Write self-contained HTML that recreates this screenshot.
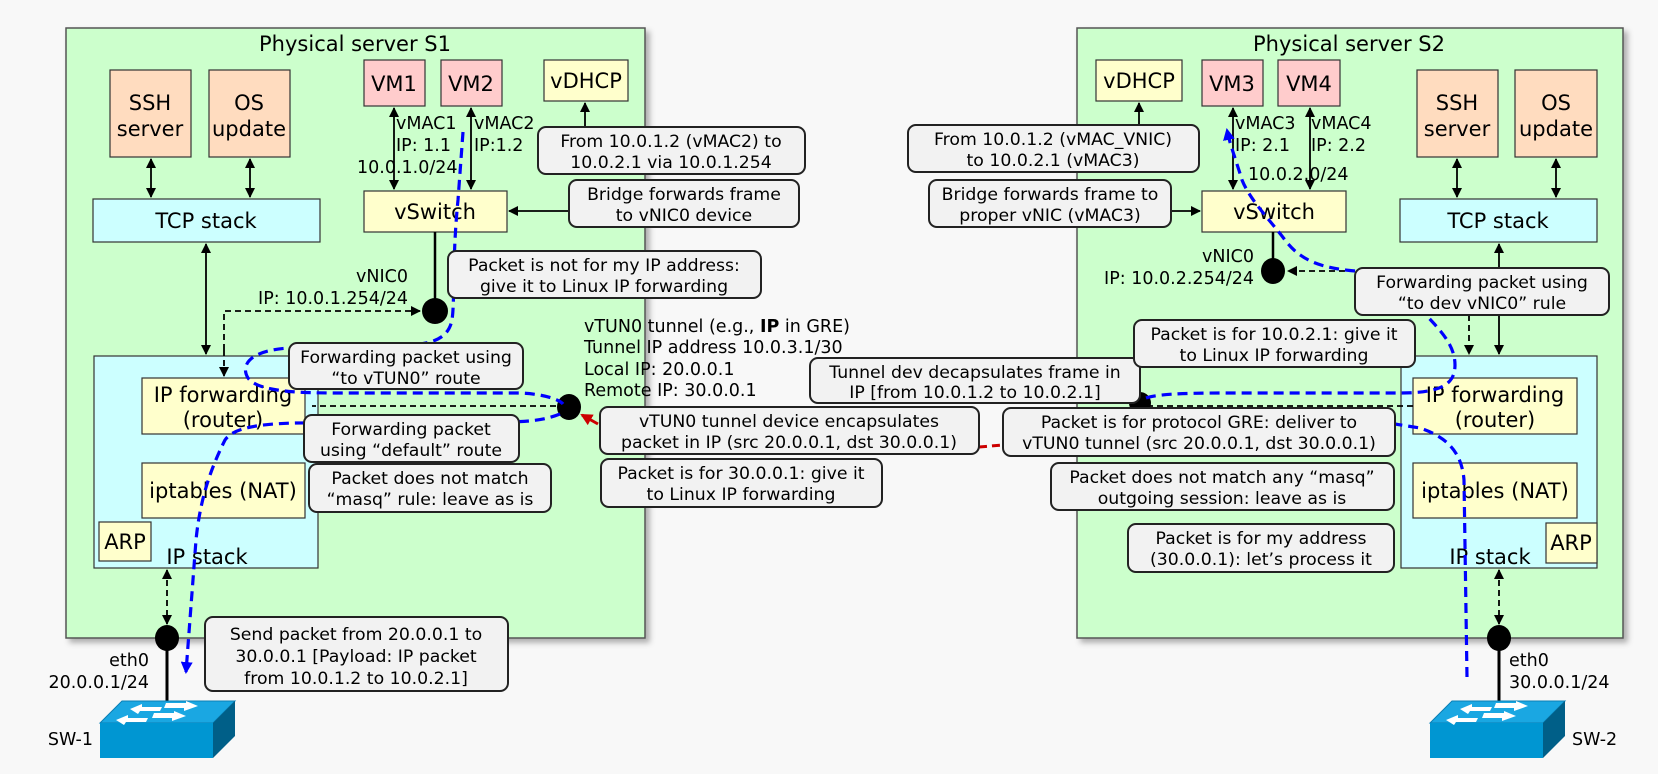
<!DOCTYPE html>
<html><head><meta charset="utf-8"><style>
html,body{margin:0;padding:0;background:#f8f8f8;}
svg{display:block;font-family:"DejaVu Sans","Liberation Sans",sans-serif;font-size:17.5px;}
</style></head><body>
<svg width="1658" height="774" viewBox="0 0 1658 774" xmlns="http://www.w3.org/2000/svg">
<defs>
<marker id="a" markerWidth="10" markerHeight="10" refX="9" refY="5" orient="auto-start-reverse" markerUnits="userSpaceOnUse"><path d="M0,0 L10,5 L0,10 z" fill="#000"/></marker>
<marker id="ab" markerWidth="12" markerHeight="12" refX="10" refY="6" orient="auto" markerUnits="userSpaceOnUse"><path d="M0,0 L12,6 L0,12 z" fill="#00f"/></marker>
<marker id="ar" markerWidth="12" markerHeight="12" refX="10" refY="6" orient="auto" markerUnits="userSpaceOnUse"><path d="M0,0 L12,6 L0,12 z" fill="#c00"/></marker>
<filter id="sh" x="-5%" y="-5%" width="110%" height="110%"><feDropShadow dx="4" dy="4" stdDeviation="3" flood-color="#000" flood-opacity="0.3"/></filter>
<g id="sw">
<path d="M0,22 L22,0 L135,0 L113,22 z" fill="#1aa7e2" stroke="#0a7fb5" stroke-width="1"/>
<rect x="0" y="22" width="113" height="35" fill="#0096d2"/>
<path d="M113,22 L135,0 L135,35 L113,57 z" fill="#005f88"/>
<g fill="#fff">
<path d="M30,8 L42,3 L42,6 L62,6 L60,10 L40,10 L38,13 z"/>
<path d="M98,5 L86,0 L86,2 L66,2 L64,7 L84,7 L84,10 z"/>
<path d="M16,19 L28,14 L28,17 L48,17 L46,21 L26,21 L24,24 z"/>
<path d="M86,15 L74,10 L74,12 L54,12 L52,17 L72,17 L72,20 z"/>
</g>
</g>
</defs>

<rect x="66" y="28" width="579" height="610" fill="#ccffcc" stroke="#555" stroke-width="1.5" filter="url(#sh)"/>
<text x="355" y="51" text-anchor="middle" font-size="21">Physical server S1</text>
<rect x="1077" y="28" width="546" height="610" fill="#ccffcc" stroke="#555" stroke-width="1.5" filter="url(#sh)"/>
<text x="1349" y="51" text-anchor="middle" font-size="21">Physical server S2</text>

<g stroke="#333" stroke-width="1.2">
<rect x="110" y="70" width="81" height="87" fill="#ffdcbf"/>
<rect x="209" y="70" width="81" height="87" fill="#ffdcbf"/>
<rect x="93" y="199" width="227" height="43" fill="#ccffff"/>
<rect x="364" y="60" width="61" height="46" fill="#ffcccc"/>
<rect x="441" y="60" width="61" height="46" fill="#ffcccc"/>
<rect x="544" y="60" width="84" height="41" fill="#ffffcc"/>
<rect x="364" y="191" width="143" height="41" fill="#ffffcc"/>
<rect x="94" y="356" width="224" height="212" fill="#ccffff"/>
<rect x="142" y="378" width="163" height="56" fill="#ffffcc"/>
<rect x="142" y="463" width="163" height="55" fill="#ffffcc"/>
<rect x="99" y="522" width="52" height="39" fill="#ffffcc"/>
<rect x="1096" y="60" width="86" height="41" fill="#ffffcc"/>
<rect x="1202" y="60" width="61" height="46" fill="#ffcccc"/>
<rect x="1278" y="60" width="62" height="46" fill="#ffcccc"/>
<rect x="1417" y="70" width="81" height="87" fill="#ffdcbf"/>
<rect x="1515" y="70" width="82" height="87" fill="#ffdcbf"/>
<rect x="1400" y="199" width="197" height="43" fill="#ccffff"/>
<rect x="1202" y="191" width="144" height="41" fill="#ffffcc"/>
<rect x="1401" y="356" width="196" height="212" fill="#ccffff"/>
<rect x="1413" y="378" width="164" height="56" fill="#ffffcc"/>
<rect x="1413" y="463" width="164" height="55" fill="#ffffcc"/>
<rect x="1546" y="523" width="51" height="40" fill="#ffffcc"/>
</g>

<g font-size="21" text-anchor="middle">
<text x="150" y="110">SSH</text><text x="150" y="136">server</text>
<text x="249" y="110">OS</text><text x="249" y="136">update</text>
<text x="206" y="228">TCP stack</text>
<text x="394" y="91">VM1</text><text x="471" y="91">VM2</text>
<text x="586" y="88">vDHCP</text>
<text x="435" y="219">vSwitch</text>
<text x="223" y="402">IP forwarding</text><text x="223" y="427">(router)</text>
<text x="223" y="498">iptables (NAT)</text>
<text x="125" y="549">ARP</text>
<text x="207" y="564">IP stack</text>
<text x="1139" y="88">vDHCP</text>
<text x="1232" y="91">VM3</text><text x="1309" y="91">VM4</text>
<text x="1457" y="110">SSH</text><text x="1457" y="136">server</text>
<text x="1556" y="110">OS</text><text x="1556" y="136">update</text>
<text x="1498" y="228">TCP stack</text>
<text x="1274" y="219">vSwitch</text>
<text x="1495" y="402">IP forwarding</text><text x="1495" y="427">(router)</text>
<text x="1495" y="498">iptables (NAT)</text>
<text x="1571" y="550">ARP</text>
<text x="1490" y="564">IP stack</text>
</g>

<g stroke="#000" stroke-width="1.8" fill="none">
<line x1="151" y1="159" x2="151" y2="197" marker-start="url(#a)" marker-end="url(#a)"/>
<line x1="250" y1="159" x2="250" y2="197" marker-start="url(#a)" marker-end="url(#a)"/>
<line x1="206" y1="244" x2="206" y2="354" marker-start="url(#a)" marker-end="url(#a)"/>
<line x1="394" y1="108" x2="394" y2="189" marker-start="url(#a)" marker-end="url(#a)"/>
<line x1="471" y1="108" x2="471" y2="189" marker-start="url(#a)" marker-end="url(#a)"/>
<line x1="585" y1="127" x2="585" y2="103" marker-end="url(#a)"/>
<line x1="569" y1="211" x2="509" y2="211" marker-end="url(#a)"/>
<line x1="435" y1="232" x2="435" y2="311" stroke-width="2.5"/>
<line x1="167" y1="638" x2="167" y2="701" stroke-width="3"/>
<line x1="167" y1="570" x2="167" y2="624" stroke-dasharray="6,4" marker-start="url(#a)" marker-end="url(#a)"/>
<path d="M224,350 L224,311 L420,311" stroke-dasharray="6,4" marker-end="url(#a)"/>
<line x1="224" y1="350" x2="224" y2="376" marker-end="url(#a)" stroke-dasharray="6,4"/>
<line x1="556" y1="406" x2="312" y2="406" stroke-dasharray="6,4"/>
<line x1="1457" y1="159" x2="1457" y2="197" marker-start="url(#a)" marker-end="url(#a)"/>
<line x1="1556" y1="159" x2="1556" y2="197" marker-start="url(#a)" marker-end="url(#a)"/>
<line x1="1233" y1="108" x2="1233" y2="189" marker-start="url(#a)" marker-end="url(#a)"/>
<line x1="1310" y1="108" x2="1310" y2="189" marker-start="url(#a)" marker-end="url(#a)"/>
<line x1="1139" y1="125" x2="1139" y2="103" marker-end="url(#a)"/>
<line x1="1171" y1="211" x2="1200" y2="211" marker-end="url(#a)"/>
<line x1="1273" y1="232" x2="1273" y2="271" stroke-width="2.5"/>
<line x1="1355" y1="271" x2="1288" y2="271" stroke-dasharray="6,4" marker-end="url(#a)"/>
<line x1="1499" y1="268" x2="1499" y2="244" marker-end="url(#a)"/>
<line x1="1499" y1="315" x2="1499" y2="354" marker-end="url(#a)"/>
<line x1="1469" y1="315" x2="1469" y2="354" stroke-dasharray="6,4" marker-end="url(#a)"/>
<line x1="1413" y1="406" x2="1140" y2="406" stroke-dasharray="6,4"/>
<line x1="1499" y1="638" x2="1499" y2="701" stroke-width="3"/>
<line x1="1499" y1="570" x2="1499" y2="624" stroke-dasharray="6,4" marker-start="url(#a)" marker-end="url(#a)"/>
</g>

<g fill="#000">
<ellipse cx="435" cy="311" rx="13" ry="13"/>
<ellipse cx="569" cy="407" rx="12" ry="13"/>
<ellipse cx="167" cy="638" rx="12" ry="13"/>
<ellipse cx="1273" cy="271" rx="12" ry="13"/>
<ellipse cx="1140" cy="403" rx="11" ry="11"/>
<ellipse cx="1499" cy="638" rx="12" ry="13"/>
</g>

<g font-size="17.5">
<text x="396" y="129">vMAC1</text><text x="396" y="151">IP: 1.1</text>
<text x="357" y="173">10.0.1.0/24</text>
<text x="474" y="129">vMAC2</text><text x="474" y="151">IP:1.2</text>
<text x="408" y="282" text-anchor="end">vNIC0</text>
<text x="408" y="304" text-anchor="end">IP: 10.0.1.254/24</text>
<text x="584" y="332">vTUN0 tunnel (e.g., <tspan font-weight="bold">IP</tspan> in GRE)</text>
<text x="584" y="353">Tunnel IP address 10.0.3.1/30</text>
<text x="584" y="375">Local IP: 20.0.0.1</text>
<text x="584" y="396">Remote IP: 30.0.0.1</text>
<text x="149" y="666" text-anchor="end">eth0</text>
<text x="149" y="688" text-anchor="end">20.0.0.1/24</text>
<text x="93" y="745" text-anchor="end">SW-1</text>
<text x="1235" y="129">vMAC3</text><text x="1235" y="151">IP: 2.1</text>
<text x="1311" y="129">vMAC4</text><text x="1311" y="151">IP: 2.2</text>
<text x="1248" y="180">10.0.2.0/24</text>
<text x="1254" y="262" text-anchor="end">vNIC0</text>
<text x="1254" y="284" text-anchor="end">IP: 10.0.2.254/24</text>
<text x="1509" y="666">eth0</text>
<text x="1509" y="688">30.0.0.1/24</text>
<text x="1572" y="745">SW-2</text>
</g>

<use href="#sw" x="100" y="701"/>
<use href="#sw" x="1430" y="701"/>

<g stroke="#0000ff" stroke-width="3.2" fill="none" stroke-dasharray="10,6">
<path d="M463,132 L458,200 C452,260 455,300 452,320 C448,340 430,345 400,345 L290,348 C250,350 240,365 248,378 C258,392 300,393 340,393 L520,393 C545,394 560,400 563,404"/>
<path d="M560,414 C545,420 530,422 500,422 L296,423 C250,424 232,430 225,440 C210,470 200,500 196,540 L186,672" marker-end="url(#ab)"/>
<path d="M1467,677 L1464,480 C1462,455 1450,438 1420,428 L1395,424"/>
<path d="M1146,398 C1160,393 1200,393 1240,393 L1400,393 C1440,393 1455,385 1455,365 C1455,345 1440,330 1426,315"/>
<path d="M1355,271 C1320,268 1300,260 1285,240 C1270,220 1250,200 1242,180 C1236,160 1230,145 1227,130" marker-end="url(#ab)"/>
</g>

<line x1="979" y1="447" x2="1003" y2="445" stroke="#c00" stroke-width="3" stroke-dasharray="8,5"/>
<line x1="598" y1="424" x2="582" y2="415" stroke="#c00" stroke-width="3" marker-end="url(#ar)"/>

<g fill="#f2f2f2" stroke="#222" stroke-width="2">
<rect x="538" y="127" width="267" height="47" rx="8"/>
<rect x="569" y="180" width="230" height="47" rx="8"/>
<rect x="448" y="251" width="313" height="47" rx="8"/>
<rect x="289" y="343" width="234" height="46" rx="8"/>
<rect x="304" y="415" width="215" height="47" rx="8"/>
<rect x="309" y="464" width="242" height="48" rx="8"/>
<rect x="205" y="617" width="303" height="74" rx="8"/>
<rect x="600" y="407" width="379" height="47" rx="8"/>
<rect x="601" y="459" width="281" height="48" rx="8"/>
<rect x="810" y="358" width="330" height="45" rx="8"/>
<rect x="908" y="125" width="291" height="47" rx="8"/>
<rect x="929" y="180" width="242" height="47" rx="8"/>
<rect x="1355" y="268" width="254" height="47" rx="8"/>
<rect x="1134" y="320" width="281" height="47" rx="8"/>
<rect x="1003" y="408" width="392" height="48" rx="8"/>
<rect x="1051" y="463" width="343" height="47" rx="8"/>
<rect x="1128" y="524" width="266" height="48" rx="8"/>
</g>
<g font-size="17.3" text-anchor="middle">
<text x="671" y="147">From 10.0.1.2 (vMAC2) to</text><text x="671" y="168">10.0.2.1 via 10.0.1.254</text>
<text x="684" y="200">Bridge forwards frame</text><text x="684" y="221">to vNIC0 device</text>
<text x="604" y="271">Packet is not for my IP address:</text><text x="604" y="292">give it to Linux IP forwarding</text>
<text x="406" y="363">Forwarding packet using</text><text x="406" y="384">“to vTUN0” route</text>
<text x="411" y="435">Forwarding packet</text><text x="411" y="456">using “default” route</text>
<text x="430" y="484">Packet does not match</text><text x="430" y="505">“masq” rule: leave as is</text>
<text x="356" y="640">Send packet from 20.0.0.1 to</text><text x="356" y="662">30.0.0.1 [Payload: IP packet</text><text x="356" y="684">from 10.0.1.2 to 10.0.2.1]</text>
<text x="789" y="427">vTUN0 tunnel device encapsulates</text><text x="789" y="448">packet in IP (src 20.0.0.1, dst 30.0.0.1)</text>
<text x="741" y="479">Packet is for 30.0.0.1: give it</text><text x="741" y="500">to Linux IP forwarding</text>
<text x="975" y="378">Tunnel dev decapsulates frame in</text><text x="975" y="398">IP [from 10.0.1.2 to 10.0.2.1]</text>
<text x="1053" y="145">From 10.0.1.2 (vMAC_VNIC)</text><text x="1053" y="166">to 10.0.2.1 (vMAC3)</text>
<text x="1050" y="200">Bridge forwards frame to</text><text x="1050" y="221">proper vNIC (vMAC3)</text>
<text x="1482" y="288">Forwarding packet using</text><text x="1482" y="309">“to dev vNIC0” rule</text>
<text x="1274" y="340">Packet is for 10.0.2.1: give it</text><text x="1274" y="361">to Linux IP forwarding</text>
<text x="1199" y="428">Packet is for protocol GRE: deliver to</text><text x="1199" y="449">vTUN0 tunnel (src 20.0.0.1, dst 30.0.0.1)</text>
<text x="1222" y="483">Packet does not match any “masq”</text><text x="1222" y="504">outgoing session: leave as is</text>
<text x="1261" y="544">Packet is for my address</text><text x="1261" y="565">(30.0.0.1): let’s process it</text>
</g>
</svg>
</body></html>
